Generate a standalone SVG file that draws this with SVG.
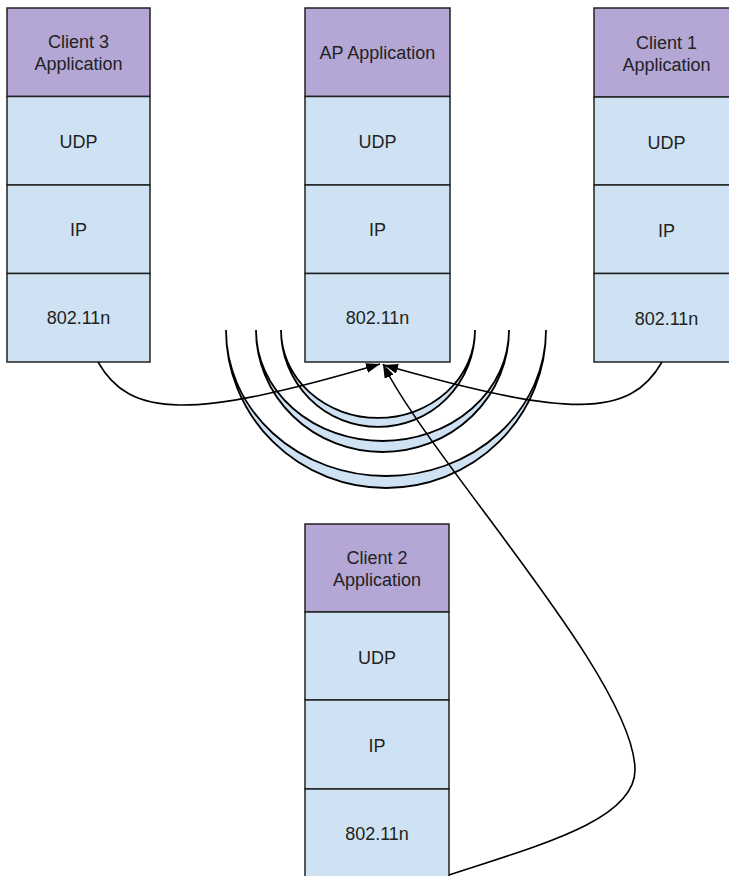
<svg xmlns="http://www.w3.org/2000/svg" width="729" height="876" viewBox="0 0 729 876">
<defs>
<style>
.app{fill:#b4a7d6;stroke:#222;stroke-width:1.5}
.layer{fill:#cfe2f3;stroke:#222;stroke-width:1.5}
.t{font-family:"Liberation Sans",Arial,sans-serif;font-size:18px;fill:#222;text-anchor:middle}
.wave{fill:#cfe2f3;stroke:#000;stroke-width:1.8}
.conn{fill:none;stroke:#000;stroke-width:1.6}
</style>
<marker id="ah" markerUnits="userSpaceOnUse" markerWidth="15" markerHeight="11" refX="14" refY="5" orient="auto">
<path d="M0,0 L14,5 L0,10 Z" fill="#000"/>
</marker>
</defs>
<rect width="729" height="876" fill="#fff"/>

<g id="waves">
<path class="wave" d="M226,330 A160,158 0 0 0 546,330 A160,146 0 0 1 226,330 Z"/>
<path class="wave" d="M256,330 A126.5,122 0 0 0 509,330 A126.5,111 0 0 1 256,330 Z"/>
<path class="wave" d="M281,330 A97,97 0 0 0 475,330 A97,88 0 0 1 281,330 Z"/>
</g>

<g id="client3">
<rect class="app" x="7" y="8" width="143" height="88.5"/>
<rect class="layer" x="7" y="96.5" width="143" height="88.5"/>
<rect class="layer" x="7" y="185" width="143" height="88.5"/>
<rect class="layer" x="7" y="273.5" width="143" height="88.5"/>
<text class="t" x="78.5" y="48">Client 3</text>
<text class="t" x="78.5" y="70">Application</text>
<text class="t" x="78.5" y="148">UDP</text>
<text class="t" x="78.5" y="236">IP</text>
<text class="t" x="78.5" y="324">802.11n</text>
</g>

<g id="ap">
<rect class="app" x="305" y="8" width="145" height="88.5"/>
<rect class="layer" x="305" y="96.5" width="145" height="88.5"/>
<rect class="layer" x="305" y="185" width="145" height="88.5"/>
<rect class="layer" x="305" y="273.5" width="145" height="88.5"/>
<text class="t" x="377.5" y="59">AP Application</text>
<text class="t" x="377.5" y="148">UDP</text>
<text class="t" x="377.5" y="236">IP</text>
<text class="t" x="377.5" y="324">802.11n</text>
</g>

<g id="client1">
<rect class="app" x="594" y="8" width="145" height="89"/>
<rect class="layer" x="594" y="97" width="145" height="88"/>
<rect class="layer" x="594" y="185" width="145" height="88.5"/>
<rect class="layer" x="594" y="273.5" width="145" height="88.5"/>
<text class="t" x="666.5" y="49">Client 1</text>
<text class="t" x="666.5" y="71">Application</text>
<text class="t" x="666.5" y="149">UDP</text>
<text class="t" x="666.5" y="237">IP</text>
<text class="t" x="666.5" y="325">802.11n</text>
</g>

<g id="client2">
<rect class="app" x="305" y="524" width="144" height="88"/>
<rect class="layer" x="305" y="612" width="144" height="88"/>
<rect class="layer" x="305" y="700" width="144" height="89"/>
<rect class="layer" x="305" y="789" width="144" height="95"/>
<text class="t" x="377" y="564">Client 2</text>
<text class="t" x="377" y="586">Application</text>
<text class="t" x="377" y="664">UDP</text>
<text class="t" x="377" y="752">IP</text>
<text class="t" x="377" y="840">802.11n</text>
</g>

<g id="connectors">
<path class="conn" d="M98,362 C130,418 190,420 380,364" marker-end="url(#ah)"/>
<path class="conn" d="M662,362 C630,418 570,418 384,365" marker-end="url(#ah)"/>
<path class="conn" d="M449,875 C540,845 635,820 635,770 C635,680 430,460 383,364" marker-end="url(#ah)"/>
</g>
</svg>
